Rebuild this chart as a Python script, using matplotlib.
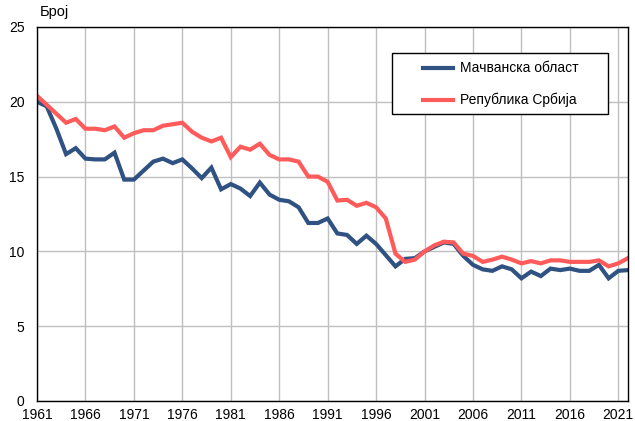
import matplotlib
matplotlib.use("Agg")
import matplotlib.pyplot as plt
from matplotlib.patches import Rectangle

plt.rcParams['font.family'] = ['Liberation Sans', 'DejaVu Sans']

years = list(range(1961, 2023))
machva = [20.0, 19.7, 18.2, 16.5, 16.9, 16.2, 16.15, 16.15, 16.6, 14.8,
          14.8, 15.4, 16.0, 16.2, 15.9, 16.15, 15.55, 14.9, 15.6, 14.15,
          14.5, 14.2, 13.7, 14.6, 13.8, 13.45, 13.35, 12.95, 11.9, 11.9,
          12.2, 11.2, 11.1, 10.5, 11.05, 10.5, 9.75, 9.0, 9.5, 9.55,
          10.0, 10.3, 10.6, 10.5, 9.7, 9.1, 8.8, 8.7, 9.0, 8.8,
          8.2, 8.65, 8.35, 8.85, 8.75, 8.85, 8.7, 8.7, 9.1, 8.2,
          8.7, 8.75]
srbija = [20.4, 19.8, 19.2, 18.6, 18.85, 18.2, 18.2, 18.1, 18.35, 17.6,
          17.9, 18.1, 18.1, 18.4, 18.5, 18.6, 18.0, 17.6, 17.35, 17.6,
          16.3, 17.0, 16.8, 17.2, 16.45, 16.15, 16.15, 16.0, 15.0, 15.0,
          14.65, 13.4, 13.45, 13.05, 13.25, 12.95, 12.2, 9.85, 9.3, 9.45,
          10.0, 10.4, 10.65, 10.6, 9.85, 9.7, 9.3, 9.45, 9.65, 9.45,
          9.2, 9.35, 9.2, 9.4, 9.4, 9.3, 9.3, 9.3, 9.4, 9.0,
          9.2, 9.55]
labels = ["Мачванска област", "Република Србија"]
xticks = list(range(1961, 2022, 5))
yticks = [0, 5, 10, 15, 20, 25]

fig = plt.figure(figsize=(6.35, 4.21), dpi=100)
ax = fig.add_axes([37/635, 1-401/421, (628-37)/635, (401-27)/421])

ax.plot(years, machva, color='#2F5282', lw=3, label=labels[0], solid_joinstyle='miter')
ax.plot(years, srbija, color='#FF5B5B', lw=3, label=labels[1], solid_joinstyle='miter')

ax.set_xlim(1961, 2022)
ax.set_ylim(0, 25)
ax.set_xticks(xticks)
ax.set_yticks(yticks)
ax.tick_params(length=0, labelsize=10, colors='black')
ax.tick_params(axis='x', pad=5)
ax.tick_params(axis='y', pad=9)
ax.grid(True, color='#BFBFBF', lw=1)
ax.set_axisbelow(True)
for s in ax.spines.values():
    s.set_color('black')
    s.set_linewidth(1)

fig.text(40/635, 1-12/421, "Број", fontsize=10.5, va='center', ha='left')

# legend box
x0 = (392-37)/591; x1 = (608-37)/591
y0 = (401-114)/374; y1 = (401-53)/374
ax.add_patch(Rectangle((x0, y0), x1-x0, y1-y0, transform=ax.transAxes,
                       facecolor='white', edgecolor='black', lw=1, zorder=4))
leg = ax.legend(loc='upper left', bbox_to_anchor=((423-37)/591, (401-61.5)/374),
                fontsize=10, frameon=False, handlelength=2.16, borderpad=0,
                labelspacing=1.26, borderaxespad=0, handletextpad=0.5)
leg.set_zorder(5)

fig.savefig("out.png", dpi=100)
